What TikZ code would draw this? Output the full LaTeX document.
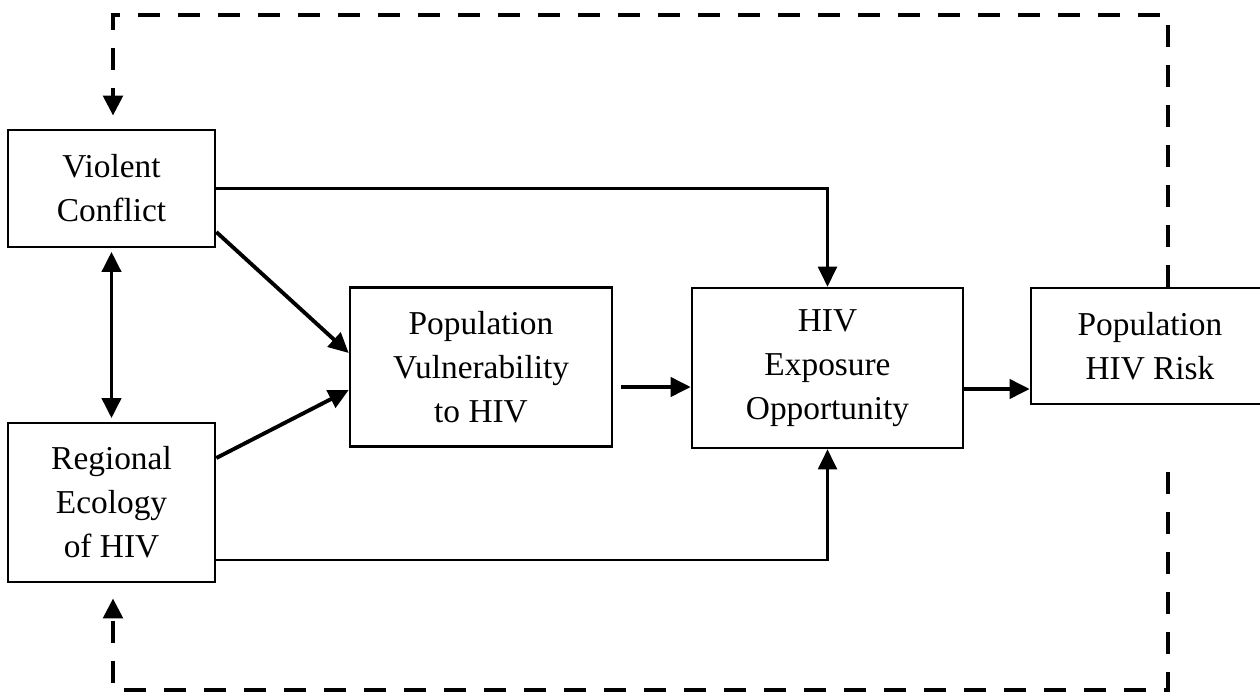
\documentclass[tikz,border=0pt]{standalone}
\usepackage{fontspec}
\setmainfont{Liberation Serif}
\usetikzlibrary{arrows.meta,positioning}

\begin{document}
\begin{tikzpicture}[x=0.02cm,y=-0.02cm,->,>={Triangle[length=0.4cm,width=0.38cm]},
                    line width=2.2pt,font=\fontsize{19}{25}\selectfont]
  \tikzstyle{box}=[draw,line width=1.5pt,align=center,inner sep=0pt]
  \tikzstyle{thin}=[line width=1.2pt]
  \tikzstyle{feedback}=[line width=2.8pt,dash pattern=on 0.44cm off 0.36cm]

  \useasboundingbox (0,0) rectangle (1260,697);

  \node[box,minimum width=4.14cm,minimum height=2.34cm] (V) at (111.5,188.5) {Violent\\Conflict};
  \node[box,minimum width=4.14cm,minimum height=3.18cm] (R) at (111.5,502.5) {Regional\\Ecology\\of HIV};
  \node[box,minimum width=5.24cm,minimum height=3.18cm] (P) at (481,367) {Population\\Vulnerability\\to HIV};
  \node[box,minimum width=5.42cm,minimum height=3.2cm] (E) at (827.5,368) {HIV\\Exposure\\Opportunity};
  \node[box,minimum width=4.76cm,minimum height=2.32cm] (K) at (1150,346) {Population\\HIV Risk};

  \coordinate (pe) at ([xshift=0.16cm,yshift=-0.4cm]P.east);
  \coordinate (ee) at ([yshift=-0.42cm]E.east);
  \coordinate (t1) at (1168,15);
  \coordinate (t2) at (113,15);
  \coordinate (b1) at (1168,472);
  \coordinate (b2) at (1168,690);

  \path (V) edge [<->,shorten <=2pt,shorten >=2pt] (R)
        ([yshift=-0.87cm]V.east) edge ([yshift=0.28cm]P.west)
        ([yshift=0.89cm]R.east) edge ([yshift=-0.46cm]P.west)
        (pe) edge (pe -| E.west)
        (ee) edge (ee -| K.west);

  \draw[thin] (V.east) -| (E.north);
  \draw[thin] ([yshift=-1.15cm]R.east) -| (E.south);

  % feedback loops
  \draw[feedback,shorten >=0.26cm] (t1 |- K.north) -- (t1) -- (t2) -- (t2 |- V.north);
  \draw[feedback,shorten >=0.3cm] (b1) -- (b2) -| (t2 |- R.south);
\end{tikzpicture}
\end{document}
